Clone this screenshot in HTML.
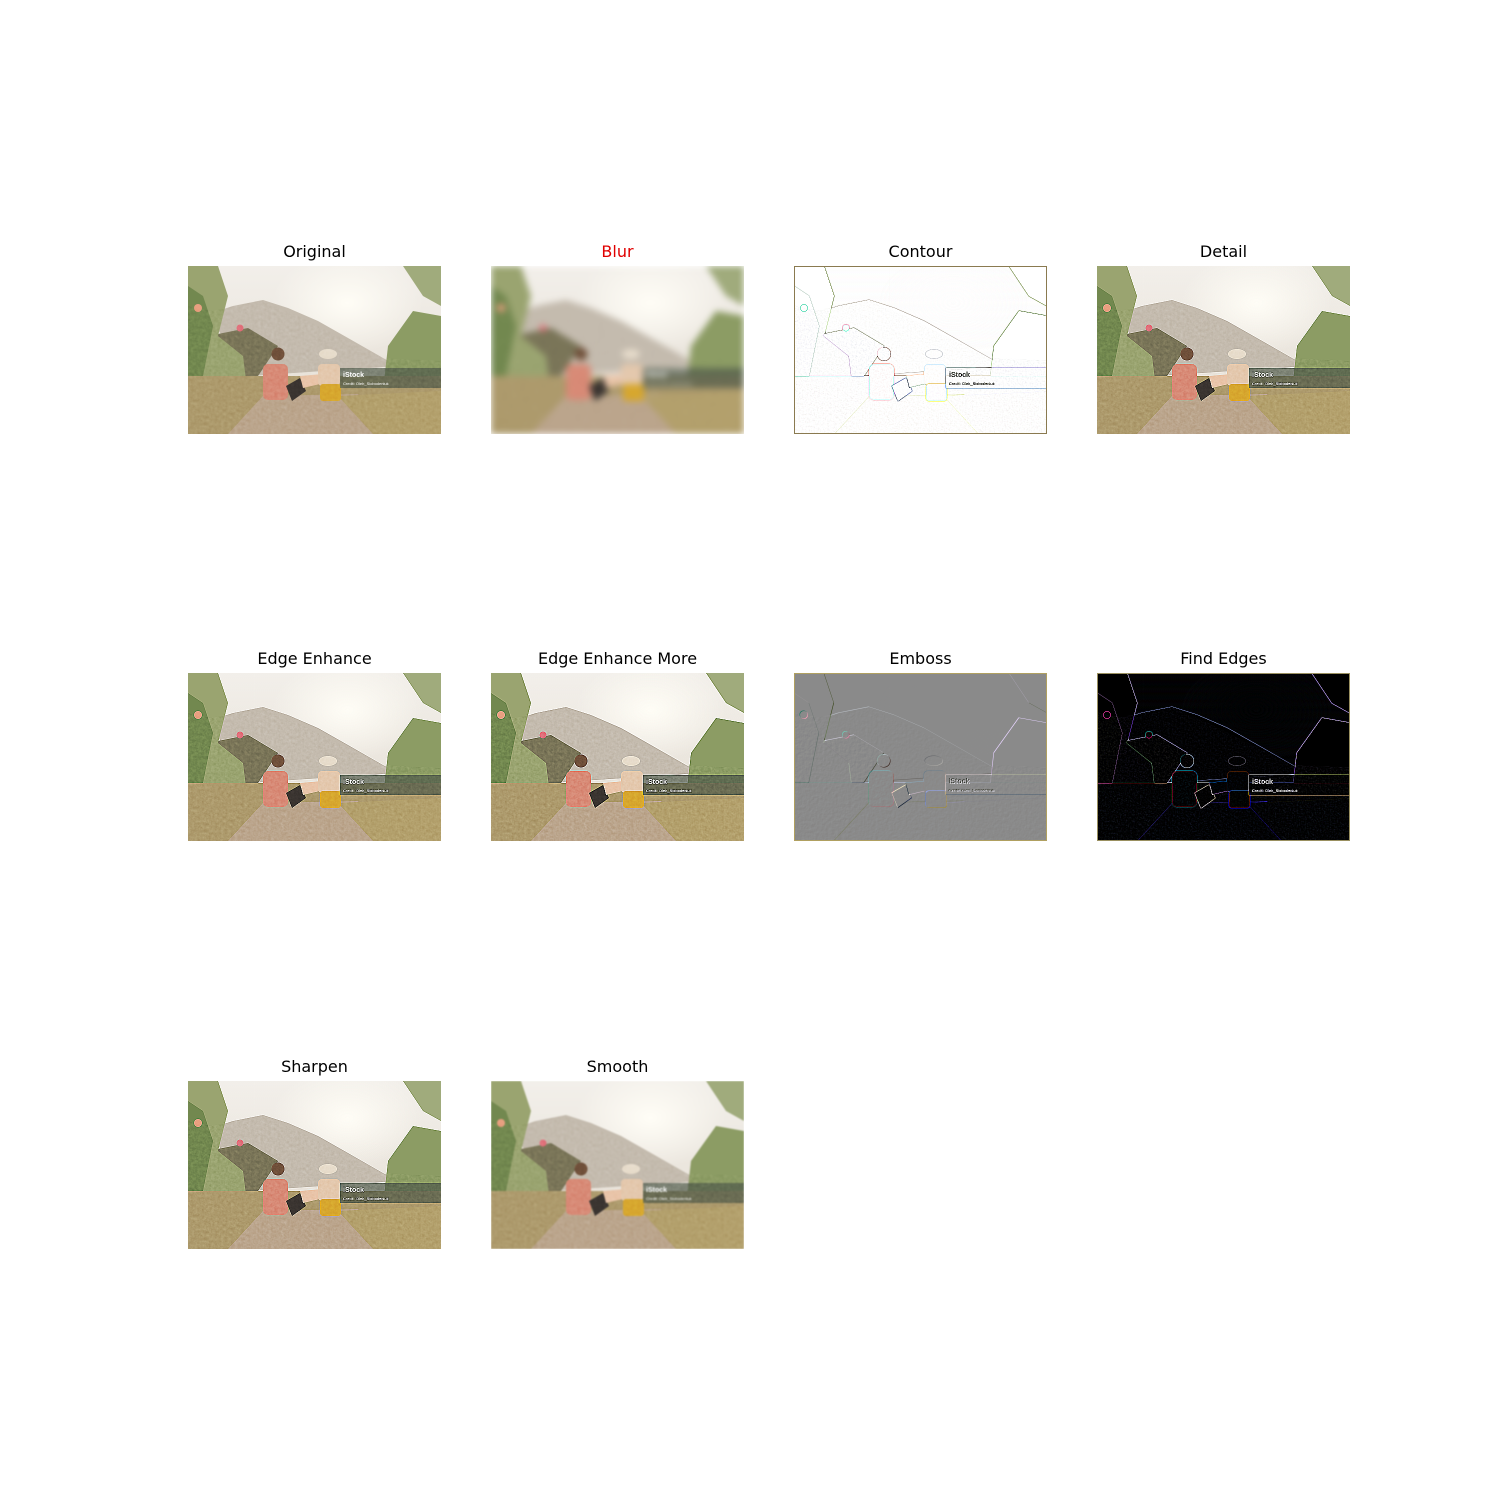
<!DOCTYPE html>
<html><head><meta charset="utf-8"><style>
html,body{margin:0;padding:0;background:#fff;}
#fig{position:relative;width:1500px;height:1500px;background:#fff;font-family:"DejaVu Sans","Liberation Sans",sans-serif;}
.panel{position:absolute;width:253px;height:168px;}
.title{position:absolute;width:253px;text-align:center;font-size:16px;color:#000;line-height:18px;}
.panel svg{display:block;}
filter{color-interpolation-filters:sRGB;}
</style></head><body>
<div id="fig">
<svg width="0" height="0" style="position:absolute">
<defs>
<filter id="tex" x="0" y="0" width="100%" height="100%" color-interpolation-filters="sRGB">
 <feTurbulence type="fractalNoise" baseFrequency="0.3" numOctaves="2" seed="3"/>
 <feColorMatrix type="matrix" values="0.33 0.33 0.33 0 0  0.33 0.33 0.33 0 0  0.33 0.33 0.33 0 0  0 0 0 0 1"/>
</filter>
<clipPath id="land"><path d="M0,168 L0,40 L25,45 L50,38 L75,35 L110,50 L150,70 L195,92 L253,95 L253,168 Z"/></clipPath>
<symbol id="scene" viewBox="0 0 253 168">
 <defs><linearGradient id="sky" x1="0" y1="0" x2="0" y2="1"><stop offset="0" stop-color="#f2efea"/><stop offset="1" stop-color="#e4ddd2"/></linearGradient>
 <radialGradient id="sun" cx="0.63" cy="0.22" r="0.3"><stop offset="0" stop-color="#fffdf6"/><stop offset="1" stop-color="#fffdf6" stop-opacity="0"/></radialGradient></defs>
 <rect width="253" height="168" fill="url(#sky)"/>
 <rect width="253" height="168" fill="url(#sun)"/>
 <path d="M20,48 L45,40 L75,34 L100,42 L130,55 L160,72 L195,92 L210,100 L60,110 Z" fill="#c4bbae"/>
 <path d="M20,70 L60,62 L90,80 L70,110 L20,110 Z" fill="#7a7558"/>
 <path d="M0,0 L30,0 L40,30 L30,70 L55,90 L60,130 L0,150 Z" fill="#9aa470"/>
 <path d="M0,20 L15,30 L25,60 L15,110 L0,120 Z" fill="#72884f"/>
 <path d="M215,0 L253,0 L253,40 L235,30 Z" fill="#a0ab7c"/>
 <path d="M200,80 L225,45 L253,50 L253,130 L195,125 Z" fill="#8c9c64"/>
 <rect x="0" y="110" width="253" height="58" fill="#ad9a6c"/>
 <path d="M40,168 L75,130 L170,128 L200,168 Z" fill="#bba58c"/>
 <path d="M150,130 L253,125 L253,168 L185,168 Z" fill="#b3a06c"/>
 <rect x="75" y="98" width="25" height="36" rx="5" fill="#d88a76"/>
 <circle cx="90" cy="88" r="6.5" fill="#70503a"/>
 <path d="M98,120 L112,112 L118,125 L104,135 Z" fill="#3a3430"/>
 <path d="M112,110 L135,108 L132,118 L115,122 Z" fill="#e9c4a8"/>
 <rect x="130" y="98" width="22" height="22" rx="4" fill="#e4c8ad"/>
 <rect x="132" y="118" width="21" height="17" rx="3" fill="#d7a72e"/>
 <ellipse cx="140" cy="88" rx="9" ry="5" fill="#e7dccb"/>
 <circle cx="52" cy="62" r="3.5" fill="#e0707a"/>
 <circle cx="10" cy="42" r="4" fill="#e8a080"/>
 <rect x="152" y="102" width="101" height="20" fill="#4d5848" opacity="0.7"/>
 <text x="155" y="111" font-size="7" font-weight="bold" fill="#fff" font-family="Liberation Sans, sans-serif">iStock</text>
 <text x="155" y="119" font-size="4" fill="#fff" font-family="Liberation Sans, sans-serif">Credit: Oleh_Slobodeniuk</text>
 <rect width="253" height="168" fill="#fff" filter="url(#tex)" clip-path="url(#land)" opacity="0.22" style="mix-blend-mode:overlay"/>
</symbol>
<filter id="fBlur" x="0" y="0" width="100%" height="100%" color-interpolation-filters="sRGB"><feGaussianBlur stdDeviation="3.5" edgeMode="duplicate"/></filter>
<filter id="fSmooth" x="0" y="0" width="100%" height="100%" color-interpolation-filters="sRGB"><feGaussianBlur stdDeviation="0.9"/></filter>
<filter id="fSharp" x="0" y="0" width="100%" height="100%" color-interpolation-filters="sRGB"><feConvolveMatrix order="3" kernelMatrix="0 -1 0 -1 5 -1 0 -1 0" preserveAlpha="true"/></filter>
<filter id="fEdgeMore" x="0" y="0" width="100%" height="100%" color-interpolation-filters="sRGB"><feConvolveMatrix order="3" kernelMatrix="-1 -1 -1 -1 10 -1 -1 -1 -1" divisor="2" preserveAlpha="true"/></filter>
<filter id="fEdges" x="0" y="0" width="100%" height="100%" color-interpolation-filters="sRGB"><feConvolveMatrix order="3" kernelMatrix="-1 -1 -1 -1 8 -1 -1 -1 -1" preserveAlpha="true"/><feComponentTransfer><feFuncR type="linear" slope="1.5"/><feFuncG type="linear" slope="1.5"/><feFuncB type="linear" slope="2"/></feComponentTransfer></filter>
<filter id="fContour" x="0" y="0" width="100%" height="100%" color-interpolation-filters="sRGB"><feConvolveMatrix order="3" kernelMatrix="1 1 1 1 -8 1 1 1 1" bias="1" preserveAlpha="true"/></filter>
<filter id="fEmboss" x="0" y="0" width="100%" height="100%" color-interpolation-filters="sRGB"><feConvolveMatrix order="3" kernelMatrix="-1 0 0 0 1 0 0 0 0" bias="0.54" preserveAlpha="true"/></filter>
</defs></svg>

<div class="title" style="left:188px;top:243px">Original</div>
<div class="panel" style="left:188px;top:266px"><svg width="253" height="168"><use href="#scene" width="253" height="168"/></svg></div>

<div class="title" style="left:491px;top:243px;color:#e00000">Blur</div>
<div class="panel" style="left:491px;top:266px"><svg width="253" height="168"><g filter="url(#fBlur)"><use href="#scene" width="253" height="168"/></g></svg></div>

<div class="title" style="left:794px;top:243px">Contour</div>
<div class="panel" style="left:794px;top:266px"><svg width="253" height="168"><g filter="url(#fContour)"><use href="#scene" width="253" height="168"/></g><rect x="0.5" y="0.5" width="252" height="167" fill="none" stroke="#8a7a50" stroke-width="1"/></svg></div>

<div class="title" style="left:1097px;top:243px">Detail</div>
<div class="panel" style="left:1097px;top:266px"><svg width="253" height="168"><g filter="url(#fSharp)"><use href="#scene" width="253" height="168"/></g></svg></div>

<div class="title" style="left:188px;top:650px">Edge Enhance</div>
<div class="panel" style="left:188px;top:673px"><svg width="253" height="168"><g filter="url(#fSharp)"><use href="#scene" width="253" height="168"/></g></svg></div>

<div class="title" style="left:491px;top:650px">Edge Enhance More</div>
<div class="panel" style="left:491px;top:673px"><svg width="253" height="168"><g filter="url(#fEdgeMore)"><use href="#scene" width="253" height="168"/></g></svg></div>

<div class="title" style="left:794px;top:650px">Emboss</div>
<div class="panel" style="left:794px;top:673px"><svg width="253" height="168"><g filter="url(#fEmboss)"><use href="#scene" width="253" height="168"/></g><rect x="0.5" y="0.5" width="252" height="167" fill="none" stroke="#b0a060" stroke-width="1"/></svg></div>

<div class="title" style="left:1097px;top:650px">Find Edges</div>
<div class="panel" style="left:1097px;top:673px"><svg width="253" height="168"><rect width="253" height="168" fill="#000"/><g filter="url(#fEdges)"><use href="#scene" width="253" height="168"/></g><rect x="0.5" y="0.5" width="252" height="167" fill="none" stroke="#9a9060" stroke-width="1"/></svg></div>

<div class="title" style="left:188px;top:1058px">Sharpen</div>
<div class="panel" style="left:188px;top:1081px"><svg width="253" height="168"><g filter="url(#fSharp)"><use href="#scene" width="253" height="168"/></g></svg></div>

<div class="title" style="left:491px;top:1058px">Smooth</div>
<div class="panel" style="left:491px;top:1081px"><svg width="253" height="168"><g filter="url(#fSmooth)"><use href="#scene" width="253" height="168"/></g></svg></div>
</div>
</body></html>
